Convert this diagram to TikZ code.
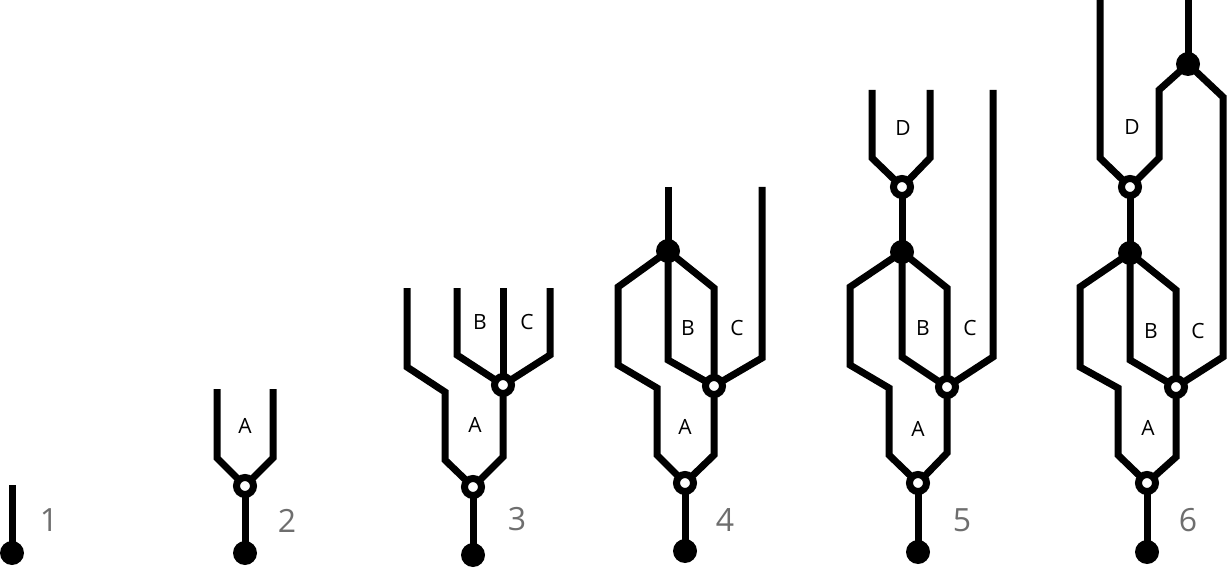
\documentclass[tikz,border=0pt]{standalone}
\usepackage{fontspec}
\setmainfont{Open Sans}
\usetikzlibrary{backgrounds}
\definecolor{numgray}{RGB}{110,110,110}
\tikzset{
  wire/.style={line width=7pt, line cap=butt, line join=miter},
  fdot/.style={circle, fill=black, inner sep=0pt, minimum size=24pt},
  odot/.style={circle, draw=black, fill=white, line width=7pt, inner sep=0pt, minimum size=17pt},
  lbl/.style={font=\fontsize{21}{21}\selectfont, inner sep=0pt},
  num/.style={font=\fontsize{32}{32}\selectfont, text=numgray, inner sep=0pt}
}
\begin{document}
\begin{tikzpicture}[x=1pt,y=-1pt]
\useasboundingbox (0,0) rectangle (1227,575);

% ---------- 1 ----------
\node[fdot] (r1) at (12,553) {};
\coordinate (t1) at (12,485);
\node[num] (n1) at (49,520) {1};

% ---------- 2 ----------
\node[fdot] (r2) at (245,553) {};
\node[odot] (a2) at (245,486) {};
\coordinate (t2l) at (217,389); \coordinate (b2l) at (217,458);
\coordinate (t2r) at (273,389); \coordinate (b2r) at (273,458);
\node[lbl] (la2) at (245,426) {A};
\node[num] (n2) at (287,521) {2};

% ---------- 3 ----------
\node[fdot] (r3) at (473,555) {};
\node[odot] (a3) at (473,487) {};
\node[odot] (bc3) at (503,385) {};
\coordinate (t3a) at (407,288); \coordinate (p3a) at (407,367);
\coordinate (p3b) at (445,392); \coordinate (p3c) at (445,460);
\coordinate (t3b) at (457,288); \coordinate (p3d) at (457,355);
\coordinate (t3m) at (503,288);
\coordinate (t3c) at (550,288); \coordinate (p3e) at (550,355);
\coordinate (p3f) at (503,457);
\node[lbl] (lb3) at (480,322) {B};
\node[lbl] (lc3) at (527,322) {C};
\node[lbl] (la3) at (475,425) {A};
\node[num] (n3) at (517,519) {3};

% ---------- 4 ----------
\node[fdot] (r4) at (685,551) {};
\node[odot] (a4) at (685,483) {};
\node[odot] (bc4) at (714,386) {};
\node[fdot] (m4) at (668,251) {};
\coordinate (t4) at (668,187);
\coordinate (p4a) at (618,287); \coordinate (p4b) at (618,365);
\coordinate (p4c) at (657,388); \coordinate (p4d) at (657,455);
\coordinate (p4e) at (668,360);
\coordinate (p4f) at (714,288);
\coordinate (t4c) at (762,187); \coordinate (p4g) at (762,358);
\coordinate (p4h) at (714,455);
\node[lbl] (lb4) at (688,328) {B};
\node[lbl] (lc4) at (737,328) {C};
\node[lbl] (la4) at (685,427) {A};
\node[num] (n4) at (725,520) {4};

% ---------- 5 ----------
\node[fdot] (r5) at (918,552) {};
\node[odot] (a5) at (918,483) {};
\node[odot] (bc5) at (947,387) {};
\node[fdot] (m5) at (902,252) {};
\node[odot] (d5) at (902,187) {};
\coordinate (t5dl) at (872,90); \coordinate (p5dl) at (872,158);
\coordinate (t5dr) at (930,90); \coordinate (p5dr) at (930,158);
\coordinate (p5a) at (850,287); \coordinate (p5b) at (850,365);
\coordinate (p5c) at (889,388); \coordinate (p5d) at (889,455);
\coordinate (p5e) at (902,357);
\coordinate (p5f) at (947,288);
\coordinate (t5c) at (993,90); \coordinate (p5g) at (993,357);
\coordinate (p5h) at (947,453);
\node[lbl] (ld5) at (903,128) {D};
\node[lbl] (lb5) at (923,328) {B};
\node[lbl] (lc5) at (970,328) {C};
\node[lbl] (la5) at (918,429) {A};
\node[num] (n5) at (962,520) {5};

% ---------- 6 ----------
\node[fdot] (r6) at (1147,552) {};
\node[odot] (a6) at (1147,483) {};
\node[odot] (bc6) at (1176,387) {};
\node[fdot] (m6) at (1130,253) {};
\node[odot] (d6) at (1130,187) {};
\node[fdot] (top6) at (1188,64) {};
\coordinate (t6) at (1188,-5);
\coordinate (t6dl) at (1100,-5); \coordinate (p6dl) at (1100,158);
\coordinate (p6q) at (1159,90); \coordinate (p6dr) at (1159,158);
\coordinate (p6r) at (1223,97); \coordinate (p6g) at (1223,357);
\coordinate (p6a) at (1080,287); \coordinate (p6b) at (1080,367);
\coordinate (p6c) at (1118,388); \coordinate (p6d) at (1118,455);
\coordinate (p6e) at (1130,360);
\coordinate (p6f) at (1176,290);
\coordinate (p6h) at (1176,457);
\node[lbl] (ld6) at (1132,127) {D};
\node[lbl] (lb6) at (1151,331) {B};
\node[lbl] (lc6) at (1198,331) {C};
\node[lbl] (la6) at (1148,428) {A};
\node[num] (n6) at (1188,520) {6};

\begin{scope}[on background layer]
% 1
\draw[wire] (t1) -- (r1.center);
% 2
\draw[wire] (t2l) -- (b2l) -- (a2.center);
\draw[wire] (t2r) -- (b2r) -- (a2.center);
\draw[wire] (a2.center) -- (r2.center);
% 3
\draw[wire] (t3a) -- (p3a) -- (p3b) -- (p3c) -- (a3.center);
\draw[wire] (t3b) -- (p3d) -- (bc3.center);
\draw[wire] (t3m) -- (bc3.center);
\draw[wire] (t3c) -- (p3e) -- (bc3.center);
\draw[wire] (bc3.center) -- (p3f) -- (a3.center);
\draw[wire] (a3.center) -- (r3.center);
% 4
\draw[wire] (t4) -- (m4.center);
\draw[wire] (m4.center) -- (p4a) -- (p4b) -- (p4c) -- (p4d) -- (a4.center);
\draw[wire] (m4.center) -- (p4e) -- (bc4.center);
\draw[wire] (m4.center) -- (p4f) -- (bc4.center);
\draw[wire] (t4c) -- (p4g) -- (bc4.center);
\draw[wire] (bc4.center) -- (p4h) -- (a4.center);
\draw[wire] (a4.center) -- (r4.center);
% 5
\draw[wire] (t5dl) -- (p5dl) -- (d5.center);
\draw[wire] (t5dr) -- (p5dr) -- (d5.center);
\draw[wire] (d5.center) -- (m5.center);
\draw[wire] (m5.center) -- (p5a) -- (p5b) -- (p5c) -- (p5d) -- (a5.center);
\draw[wire] (m5.center) -- (p5e) -- (bc5.center);
\draw[wire] (m5.center) -- (p5f) -- (bc5.center);
\draw[wire] (t5c) -- (p5g) -- (bc5.center);
\draw[wire] (bc5.center) -- (p5h) -- (a5.center);
\draw[wire] (a5.center) -- (r5.center);
% 6
\draw[wire] (t6) -- (top6.center);
\draw[wire] (t6dl) -- (p6dl) -- (d6.center);
\draw[wire] (top6.center) -- (p6q) -- (p6dr) -- (d6.center);
\draw[wire] (top6.center) -- (p6r) -- (p6g) -- (bc6.center);
\draw[wire] (d6.center) -- (m6.center);
\draw[wire] (m6.center) -- (p6a) -- (p6b) -- (p6c) -- (p6d) -- (a6.center);
\draw[wire] (m6.center) -- (p6e) -- (bc6.center);
\draw[wire] (m6.center) -- (p6f) -- (bc6.center);
\draw[wire] (bc6.center) -- (p6h) -- (a6.center);
\draw[wire] (a6.center) -- (r6.center);
\end{scope}
\end{tikzpicture}
\end{document}
